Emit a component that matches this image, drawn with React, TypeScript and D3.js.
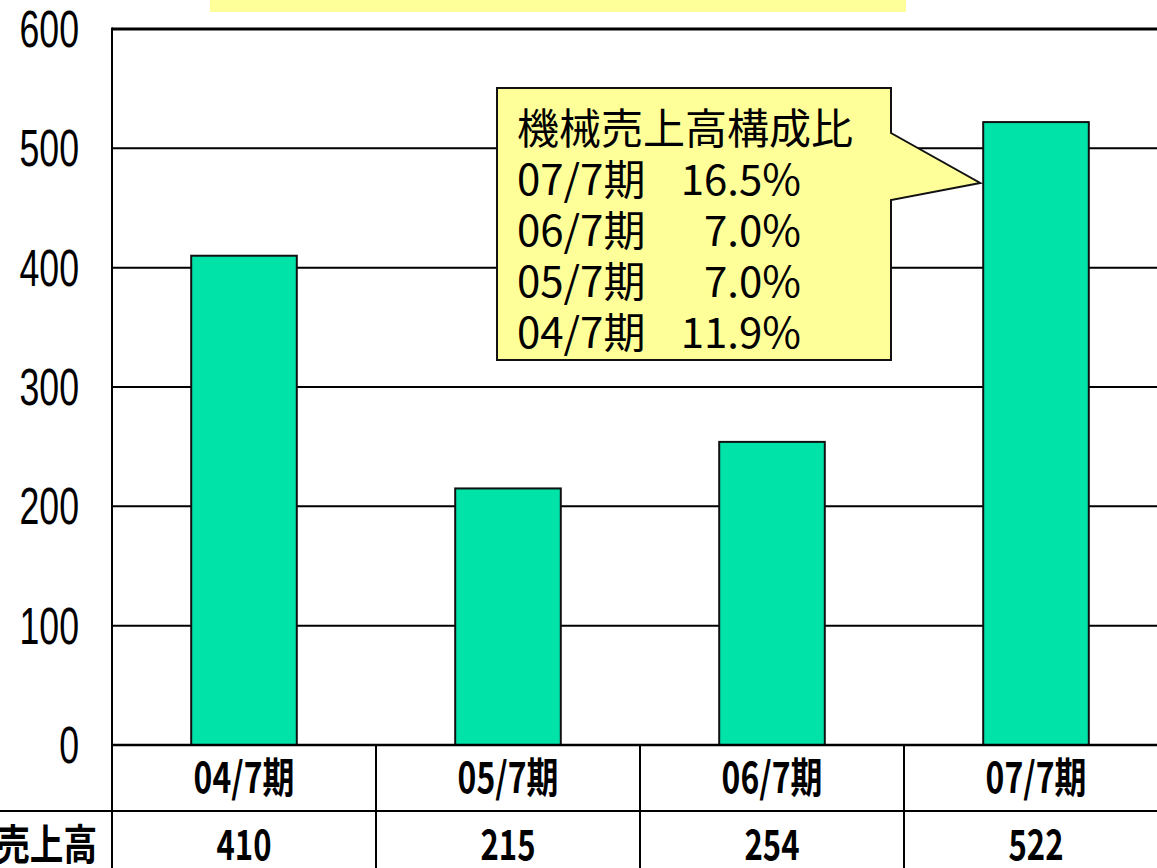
import React from "react";
import * as d3 from "d3";

// 期別 売上高
const periods = ["04/7期", "05/7期", "06/7期", "07/7期"];
const sales = [410, 215, 254, 522];
const yTicks = [0, 100, 200, 300, 400, 500, 600];

// 吹き出し: 機械売上高構成比
const shareTitle = "機械売上高構成比";
const sharePeriods = ["07/7期", "06/7期", "05/7期", "04/7期"];
const shareValues = [16.5, 7.0, 7.0, 11.9];

const W = 1157;
const H = 868;
const left = 112;
const right = 1168;
const top = 29;
const bottom = 745;
const rowH = 66;

const cjk = "'Noto Sans CJK JP', 'Noto Sans', sans-serif";
const narrow = "'Liberation Sans', Arial, sans-serif";

const App = () => {
  const x = d3
    .scaleBand<string>()
    .domain(periods)
    .range([left, right])
    .paddingInner(0.6)
    .paddingOuter(0.3);

  const cols = d3.scaleBand<string>().domain(periods).range([left, right]).padding(0);

  const y = d3.scaleLinear().domain([0, 600]).range([bottom, top]);

  const fmt = d3.format(".1f");

  // callout geometry
  const bx0 = 497, bx1 = 891, by0 = 88, by1 = 360;
  const tipX = (x("07/7期") as number) - 3;
  const tipY = y(471);
  const callout = `M${bx0},${by0} H${bx1} V133 L${tipX},${tipY} L${bx1},200 V${by1} H${bx0} Z`;

  return (
    <div style={{ position: "absolute", left: 0, top: 0 }}>
      <svg width={W} height={H} style={{ display: "block" }}>
        <rect x={0} y={0} width={W} height={H} fill="#fff" />
        {/* title box, cut at top */}
        <rect x={210} y={-10} width={696} height={22} fill="#FFFF99" />

        {/* gridlines */}
        {yTicks.slice(1, -1).map((t) => (
          <line key={t} x1={left} x2={right} y1={y(t)} y2={y(t)} stroke="#000" strokeWidth={2} />
        ))}
        <line x1={left} x2={right} y1={y(600)} y2={y(600)} stroke="#000" strokeWidth={3} />

        {/* bars */}
        {periods.map((p, i) => (
          <rect
            key={p}
            x={x(p)}
            y={y(sales[i])}
            width={x.bandwidth()}
            height={y(0) - y(sales[i])}
            fill="#00E3A8"
            stroke="#111"
            strokeWidth={2}
          />
        ))}

        {/* y axis */}
        <line x1={left} x2={left} y1={top - 1.5} y2={bottom} stroke="#000" strokeWidth={2} />
        {yTicks.map((t) => (
          <text
            key={t}
            transform={`translate(79,${y(t)}) scale(0.7,1)`}
            textAnchor="end"
            dominantBaseline="central"
            fontFamily={narrow}
            fontSize={51}
            fill="#000"
          >
            {t}
          </text>
        ))}

        {/* data table */}
        <line x1={0} x2={right} y1={bottom + rowH} y2={bottom + rowH} stroke="#000" strokeWidth={2} />
        <line x1={left} x2={right} y1={bottom} y2={bottom} stroke="#000" strokeWidth={2.5} />
        {periods.map((p) => (
          <line
            key={p}
            x1={cols(p)}
            x2={cols(p)}
            y1={bottom}
            y2={H}
            stroke="#000"
            strokeWidth={2}
          />
        ))}
        {periods.map((p, i) => (
          <g key={p}>
            <text
              transform={`translate(${(cols(p) as number) + cols.bandwidth() / 2},${bottom + 48}) scale(0.76,1)`}
              textAnchor="middle"
              fontFamily={cjk}
              fontWeight={700}
              fontSize={42}
              fill="#000"
            >
              {p}
            </text>
            <text
              transform={`translate(${(cols(p) as number) + cols.bandwidth() / 2},${bottom + rowH + 49}) scale(0.74,1)`}
              textAnchor="middle"
              fontFamily={cjk}
              fontWeight={700}
              fontSize={42}
              fill="#000"
            >
              {sales[i]}
            </text>
          </g>
        ))}
        <text
          transform={`translate(97,${bottom + rowH + 49}) scale(0.8,1)`}
          textAnchor="end"
          fontFamily={cjk}
          fontWeight={700}
          fontSize={42}
          fill="#000"
        >
          売上高
        </text>

        {/* callout */}
        <path d={callout} fill="#FFFF99" stroke="#111" strokeWidth={2} strokeLinejoin="miter" />
        <text x={517} y={144} fontFamily={cjk} fontSize={42} fill="#000">
          {shareTitle}
        </text>
        {sharePeriods.map((p, i) => (
          <g key={p}>
            <text x={517} y={195 + i * 51} fontFamily={cjk} fontSize={42} fill="#000">
              {p}
            </text>
            <text x={801} y={195 + i * 51} textAnchor="end" fontFamily={cjk} fontSize={42} fill="#000">
              {fmt(shareValues[i])}%
            </text>
          </g>
        ))}
      </svg>
    </div>
  );
};

export default App;
